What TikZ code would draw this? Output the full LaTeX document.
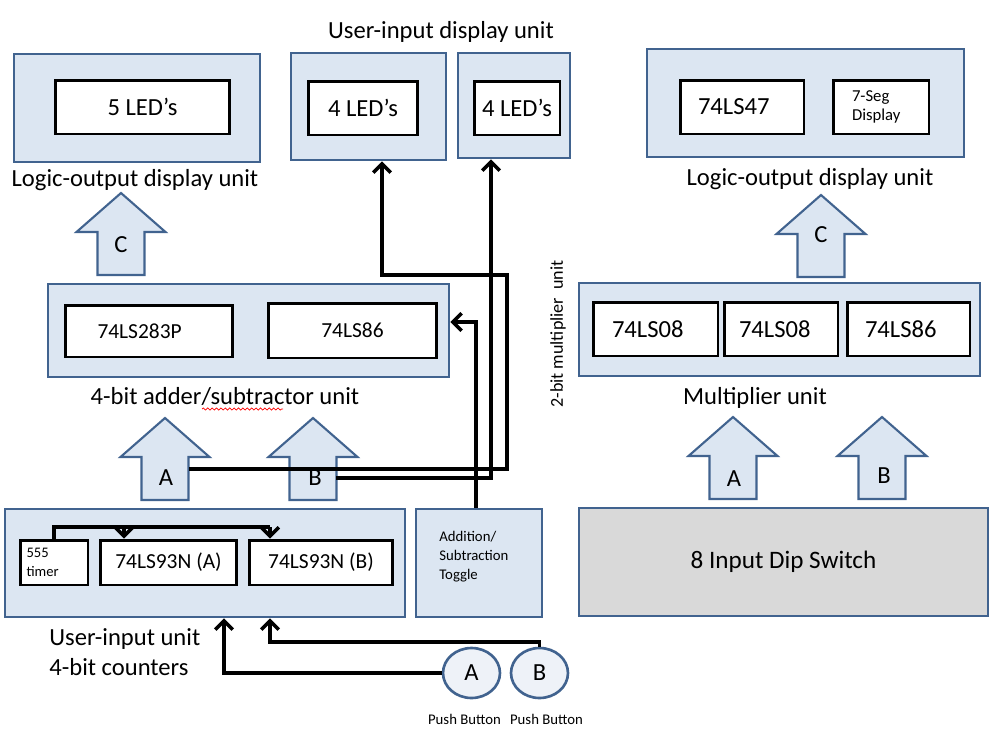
\documentclass[tikz,border=0pt]{standalone}
\usepackage{fontspec}
\setmainfont{Carlito}
\usepackage{tikz}
\usetikzlibrary{
    arrows.meta,
    calc,
    shapes.geometric,
    decorations.pathmorphing
}

\definecolor{unitfill}{HTML}{DCE6F2}
\definecolor{unitline}{HTML}{41638F}
\definecolor{dipfill}{HTML}{D9D9D9}
\definecolor{buttonfill}{HTML}{EEF2F8}

\tikzset{
    unitbox/.style={draw=unitline, fill=unitfill, line width=1.6pt, inner sep=0pt},
    chip/.style={draw=black, fill=white, line width=1.7pt, inner sep=0pt, font=\fontsize{14}{16}\selectfont},
    smallchip/.style={chip, font=\fontsize{12.2}{14}\selectfont},
    unitlabel/.style={font=\fontsize{14}{17}\selectfont, inner sep=0pt},
    smalltext/.style={font=\fontsize{8.4}{10.8}\selectfont, align=left, inner sep=0pt},
    wire/.style={line width=2pt, -{Straight Barb[length=5pt, width=10pt]}},
    wireline/.style={line width=2pt},
    bigarrow/.style={draw=unitline, fill=unitfill, line width=1.2pt},
    button/.style={ellipse, draw=unitline, fill=buttonfill, line width=1.5pt, minimum width=1.14cm, minimum height=1.0cm, inner sep=0pt, font=\fontsize{14}{16}\selectfont}
}

% block arrow, tip at (#1,#2)
\newcommand{\fatarrow}[2]{%
    \draw[bigarrow] (#1,#2) -- ++(44.5,39) -- ++(-21,0) -- ++(0,43) -- ++(-47,0) -- ++(0,-43) -- ++(-21,0) -- cycle;
}

\begin{document}
\begin{tikzpicture}[x=0.02cm, y=-0.02cm]
    \useasboundingbox (0,0) rectangle (998,731);

    % Top row: display units
    \node[unitbox, minimum width=4.92cm, minimum height=2.16cm] (ledL) at (137,108) {};
    \node[chip, minimum width=3.50cm, minimum height=1.08cm] (led5) at (142.5,107) {5 LED’s};
    \node[unitlabel] (lblLL) at (135,180) {Logic-output display unit};

    \node[unitlabel] (lblUI) at (441,32) {User-input display unit};
    \node[unitbox, minimum width=3.10cm, minimum height=2.14cm] (ui1) at (368.5,106.5) {};
    \node[chip, minimum width=2.20cm, minimum height=1.08cm] (led4a) at (363,108) {4 LED’s};
    \node[unitbox, minimum width=2.24cm, minimum height=2.10cm] (ui2) at (514,105.5) {};
    \node[chip, minimum width=1.72cm, minimum height=1.08cm] (led4b) at (517,108) {4 LED’s};

    \node[unitbox, minimum width=6.34cm, minimum height=2.16cm] (segU) at (805.5,103) {};
    \node[chip, minimum width=2.48cm, minimum height=1.08cm, align=left, text width=1.76cm] (c47) at (742,107) {74LS47};
    \node[chip, minimum width=1.92cm, minimum height=1.08cm, font=\fontsize{9.5}{11}\selectfont, align=left, text width=1.16cm] (seg) at (881,107) {7-Seg\\Display};
    \node[unitlabel] (lblLR) at (810,179) {Logic-output display unit};

    % Block arrows C
    \fatarrow{121}{193}
    \node[unitlabel] (outCL) at (121,245) {C};
    \fatarrow{821}{195}
    \node[unitlabel] (outCR) at (821,235) {C};

    % Adder / subtractor
    \node[unitbox, minimum width=8.02cm, minimum height=1.86cm] (adder) at (248.5,330.5) {};
    \node[smallchip, minimum width=3.34cm, minimum height=1.04cm, align=left, text width=2.06cm] (c283) at (149,331) {74LS283P};
    \node[smallchip, minimum width=3.38cm, minimum height=1.10cm] (c86a) at (352.5,330.5) {74LS86};
    \node[unitlabel] (lblAdd) at (225,396) {4-bit adder/subtractor unit};
    \draw[red, line width=0.4pt, decorate, decoration={snake, amplitude=0.6pt, segment length=2.5pt}] (202,409) -- (283,409);

    % Multiplier
    \node[unitbox, minimum width=8.02cm, minimum height=1.86cm] (mult) at (779.5,329.5) {};
    \node[chip, minimum width=2.50cm, minimum height=1.08cm, align=left, text width=1.74cm] (c08a) at (655.5,329) {74LS08};
    \node[chip, minimum width=2.28cm, minimum height=1.08cm, align=left, text width=1.68cm] (c08b) at (781,329) {74LS08};
    \node[chip, minimum width=2.46cm, minimum height=1.08cm, align=left, text width=1.74cm] (c86b) at (908.5,329) {74LS86};
    \node[unitlabel] (lblMul) at (755,398) {Multiplier unit};
    \node[unitlabel, font=\fontsize{10.3}{12}\selectfont, rotate=90] (lbl2bit) at (558,334) {2-bit multiplier\ \ unit};

    % Block arrows A and B
    \fatarrow{165}{418}
    \node[unitlabel] (inAL) at (166,478) {A};
    \fatarrow{313}{418}
    \node[unitlabel] (inBL) at (315,478) {B};
    \fatarrow{733}{417}
    \node[unitlabel] (inAR) at (734,479) {A};
    \fatarrow{882}{417}
    \node[unitlabel] (inBR) at (884,476) {B};

    % User-input unit
    \node[unitbox, minimum width=8.00cm, minimum height=2.16cm] (uin) at (205,563) {};
    \node[chip, minimum width=1.36cm, minimum height=0.90cm, font=\fontsize{8.3}{10.8}\selectfont, align=left, text width=1.1cm] (timer) at (54,562.5) {555\\timer};
    \node[smallchip, minimum width=2.74cm, minimum height=0.90cm] (cntA) at (168.5,562.5) {74LS93N (A)};
    \node[smallchip, minimum width=2.88cm, minimum height=0.90cm] (cntB) at (321,562.5) {74LS93N (B)};
    \node[unitlabel, anchor=west, align=left, font=\fontsize{14}{17}\selectfont] (lblUin) at (49,652) {User-input unit\\4-bit counters};

    \node[unitbox, minimum width=2.52cm, minimum height=2.16cm] (tog) at (479,563) {};
    \node[smalltext, anchor=west] (togtext) at (439,557) {Addition/\\Subtraction\\Toggle};

    \node[unitbox, fill=dipfill, minimum width=8.18cm, minimum height=2.16cm, font=\fontsize{14.3}{16}\selectfont] (dip) at (783.5,562) {8 Input Dip Switch};

    % Push buttons
    \node[button] (pbA) at (471.5,673) {A};
    \node[button] (pbB) at (539.5,673) {B};
    \node[smalltext] (lblPA) at (464.5,719) {Push Button};
    \node[smalltext] (lblPB) at (546.5,719) {Push Button};

    % Wires
    \coordinate (wA) at (189,469);
    \coordinate (wB) at (336,478);
    \draw[wire] (wA) -- (507,469) -- (507,275) -- (382,275) -- (382,0 |- ui1.south);
    \draw[wire] (wB) -- (491,478) -- (491,0 |- ui2.south);
    \draw[wire] (tog.north -| 476,0) -- (476,322) -- (adder.east |- 0,322);

    \draw[wireline] (timer.north) -- (54,527) -- (270,527);
    \draw[wire] (124,527) -- (124,0 |- cntA.north);
    \draw[wire] (270,527) -- (270,0 |- cntB.north);

    \draw[wire] (pbA.west) -- (224,673) -- (224,0 |- uin.south);
    \draw[wire] (pbB.north) -- (539.5,642) -- (270,642) -- (270,0 |- uin.south);
\end{tikzpicture}
\end{document}
